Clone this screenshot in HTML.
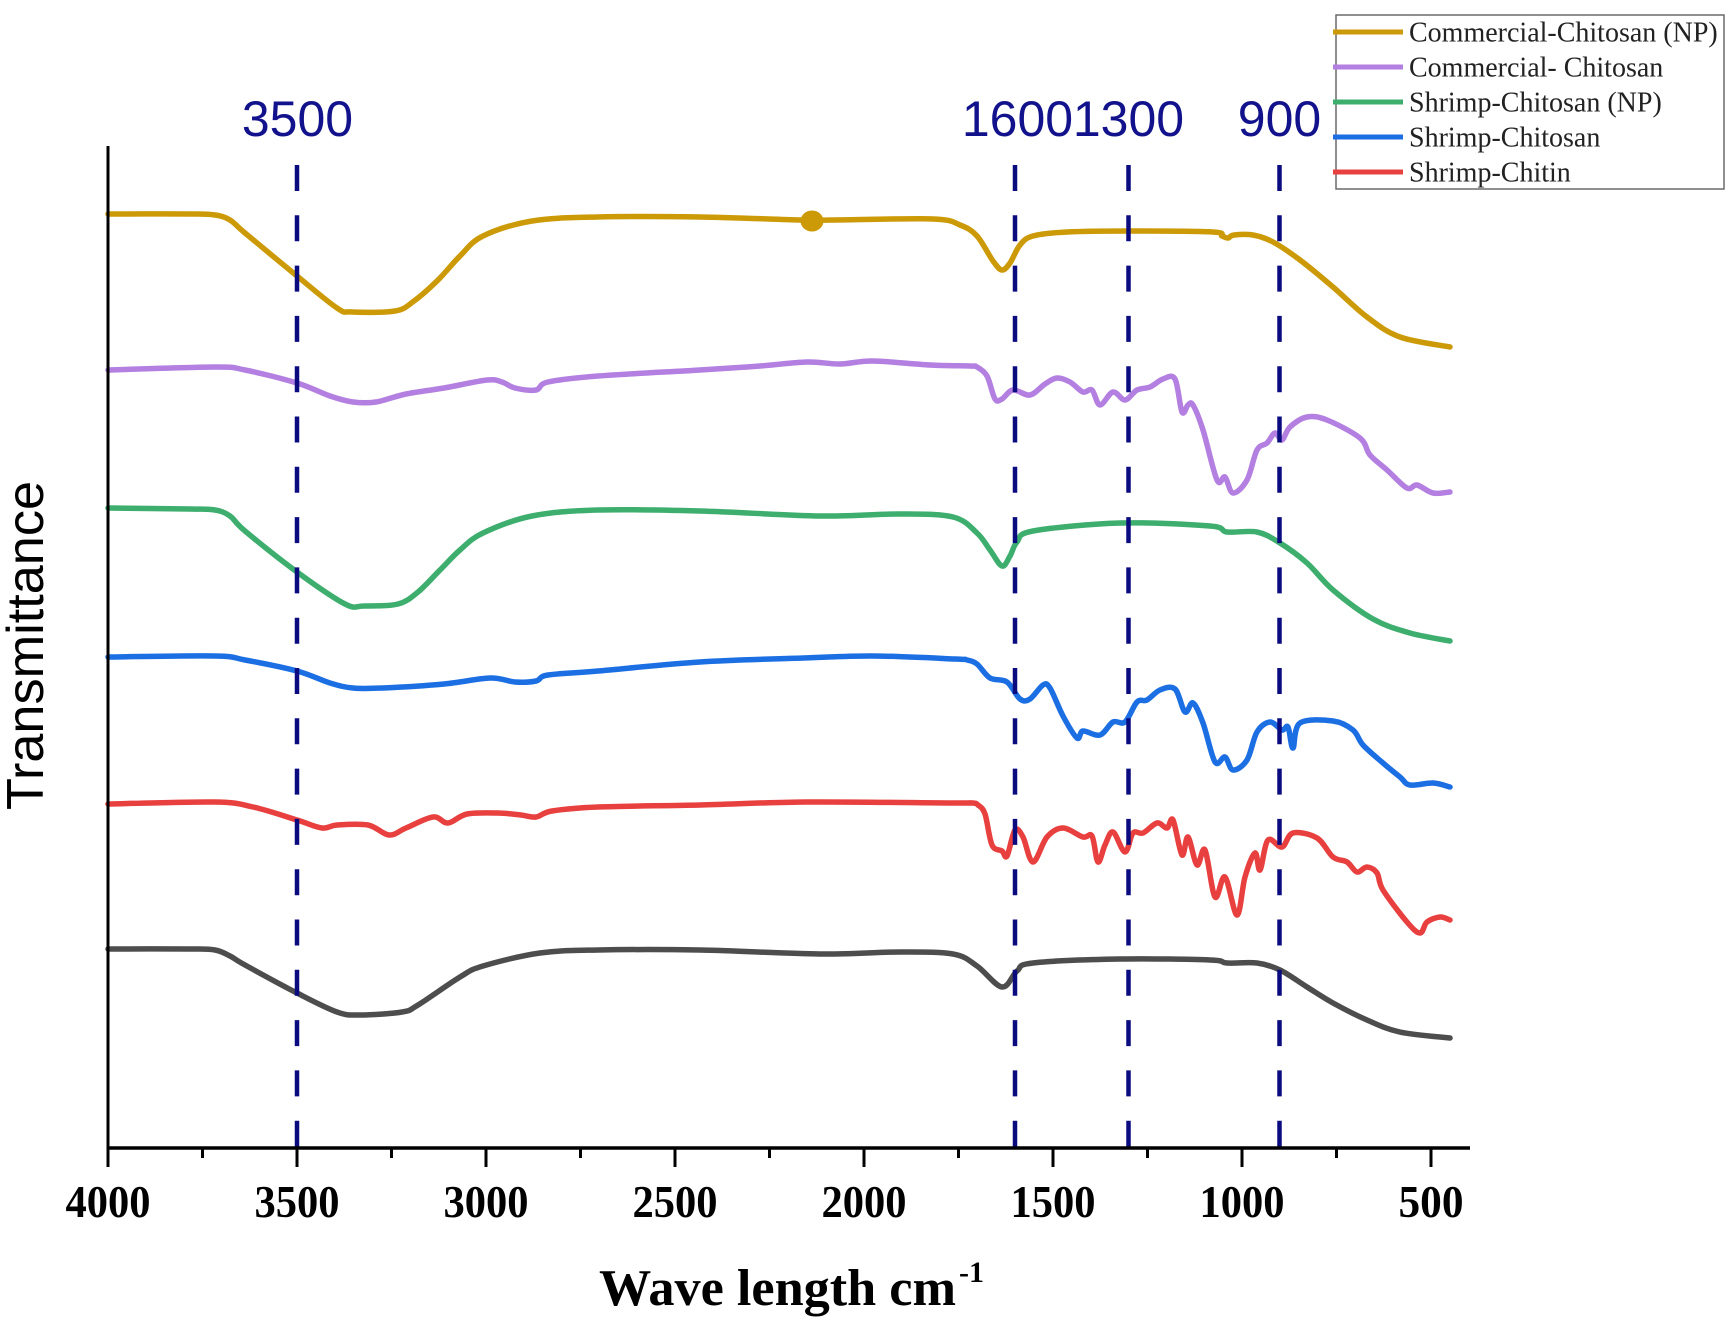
<!DOCTYPE html>
<html>
<head>
<meta charset="utf-8">
<style>
  html, body { margin: 0; padding: 0; background: #ffffff; }
  svg { display: block; }
</style>
</head>
<body>
<svg id="chart" width="1734" height="1320" viewBox="0 0 1734 1320" xmlns="http://www.w3.org/2000/svg">
  <rect x="0" y="0" width="1734" height="1320" fill="#ffffff"/>

  <!-- Spectra -->
  <g id="spectra" fill="none" stroke-width="5.5" stroke-linejoin="round" stroke-linecap="round">
    <polyline stroke="#CC9A06" points="108,214 190,214 215,215 230,220 245,233 297,276 337,308 352,312 395,311 414,301 438,280 460,256 483,236 532,221 597,217 700,217 800,220 833,220 933,219 960,225 977,236 993,261 1002,270 1010,263 1020,245 1033,236 1067,232 1133,231 1213,232 1222,236 1228,238 1234,235 1253,235 1273,242 1300,260 1333,287 1367,317 1400,337 1450,347"/>
    <polyline stroke="#B37FE0" points="108,370 215,367 245,370 297,383 330,396 353,402 376,402 406,394 444,388 487,380 502,382 515,388 536,390 548,382 598,376 700,370 760,366 807,362 840,364 873,361 930,365 970,366 977,367 987,376 995,399 1002,399 1013,390 1030,395 1045,384 1057,378 1070,382 1083,392 1092,390 1100,405 1113,392 1125,400 1137,390 1150,387 1163,379 1175,379 1182,412 1188,405 1193,405 1203,430 1217,480 1225,477 1233,493 1247,480 1257,450 1267,443 1275,433 1282,440 1290,427 1307,417 1327,420 1360,438 1370,455 1387,470 1407,488 1417,485 1433,493 1450,492"/>
    <polyline stroke="#3DAE6E" points="108,508 190,509 215,510 230,516 245,531 297,572 345,604 364,606 398,604 418,592 440,570 460,550 483,533 532,516 598,510 700,511 820,516 900,514 953,517 977,533 990,550 1002,566 1010,556 1017,542 1033,531 1120,523 1210,526 1227,532 1257,532 1280,543 1307,563 1333,590 1373,619 1410,633 1450,641"/>
    <polyline stroke="#1C6FE3" points="108,657 215,656 245,660 297,671 330,683 353,688 383,688 444,684 490,678 515,682 536,681 548,675 598,671 700,662 803,658 873,656 955,659 967,660 977,664 990,678 1007,682 1020,699 1030,699 1043,685 1050,688 1063,716 1077,738 1083,731 1100,735 1113,722 1125,722 1137,702 1147,700 1160,690 1175,689 1185,712 1193,703 1203,723 1215,762 1225,757 1233,770 1247,760 1257,732 1270,722 1282,730 1288,727 1293,748 1300,723 1333,721 1353,730 1363,745 1383,763 1400,777 1410,785 1433,783 1450,787"/>
    <polyline stroke="#E8403F" points="108,804 215,802 253,807 297,820 322,828 337,825 368,825 389,835 406,828 433,817 448,823 467,814 498,813 521,815 536,817 552,811 598,807 700,805 807,802 950,803 972,803 978,805 985,814 992,845 1002,851 1007,856 1015,830 1023,837 1033,862 1047,837 1063,828 1083,837 1092,836 1098,862 1105,845 1113,832 1125,852 1133,833 1143,833 1157,823 1167,828 1173,820 1182,855 1188,837 1197,865 1205,850 1215,897 1225,877 1237,915 1245,877 1255,853 1260,870 1268,840 1282,847 1293,833 1317,838 1333,857 1347,862 1357,872 1367,867 1377,873 1383,890 1407,922 1420,933 1427,922 1440,917 1450,920"/>
    <polyline stroke="#4D4D4D" points="108,949 190,949 215,950 230,956 245,965 297,993 337,1012 360,1015 402,1012 418,1005 460,977 483,966 540,953 598,950 700,950 820,954 900,952 953,954 977,966 1002,987 1017,971 1033,963 1120,959 1210,960 1227,963 1257,963 1280,970 1307,987 1333,1003 1367,1020 1400,1032 1450,1038"/>
  </g>
  <ellipse cx="812" cy="221" rx="11.5" ry="10.5" fill="#CC9A06"/>

  <!-- Dashed reference lines -->
  <g stroke="#0b0b80" stroke-width="4.5" stroke-dasharray="26 24.3">
    <line x1="297" y1="165" x2="297" y2="1148"/>
    <line x1="1015" y1="165" x2="1015" y2="1148"/>
    <line x1="1128.5" y1="165" x2="1128.5" y2="1148"/>
    <line x1="1279.5" y1="165" x2="1279.5" y2="1148"/>
  </g>

  <!-- Reference labels -->
  <g font-family="'Liberation Sans', Arial, sans-serif" font-size="50" fill="#12128c" text-anchor="middle">
    <text x="297.5" y="136">3500</text>
    <text x="1017.5" y="136">1600</text>
    <text x="1128.5" y="136">1300</text>
    <text x="1279.5" y="136">900</text>
  </g>

  <!-- Axes -->
  <g stroke="#000" fill="none">
    <line x1="108" y1="146" x2="108" y2="1149.5" stroke-width="3"/>
    <line x1="106.5" y1="1148" x2="1470" y2="1148" stroke-width="3.5"/>
  </g>
  <g stroke="#000" stroke-width="3">
    <line x1="108" y1="1148" x2="108" y2="1167"/>
    <line x1="297" y1="1148" x2="297" y2="1167"/>
    <line x1="486" y1="1148" x2="486" y2="1167"/>
    <line x1="675" y1="1148" x2="675" y2="1167"/>
    <line x1="864" y1="1148" x2="864" y2="1167"/>
    <line x1="1053" y1="1148" x2="1053" y2="1167"/>
    <line x1="1242" y1="1148" x2="1242" y2="1167"/>
    <line x1="1431" y1="1148" x2="1431" y2="1167"/>
  </g>
  <g stroke="#000" stroke-width="3">
    <line x1="202.5" y1="1148" x2="202.5" y2="1158"/>
    <line x1="391.5" y1="1148" x2="391.5" y2="1158"/>
    <line x1="580.5" y1="1148" x2="580.5" y2="1158"/>
    <line x1="769.5" y1="1148" x2="769.5" y2="1158"/>
    <line x1="958.5" y1="1148" x2="958.5" y2="1158"/>
    <line x1="1147.5" y1="1148" x2="1147.5" y2="1158"/>
    <line x1="1336.5" y1="1148" x2="1336.5" y2="1158"/>
  </g>

  <!-- Tick labels -->
  <g font-family="'Liberation Serif', 'Times New Roman', serif" font-weight="bold" font-size="46" fill="#000" text-anchor="middle">
    <text x="108" y="1217" textLength="85" lengthAdjust="spacingAndGlyphs">4000</text>
    <text x="297" y="1217" textLength="85" lengthAdjust="spacingAndGlyphs">3500</text>
    <text x="486" y="1217" textLength="85" lengthAdjust="spacingAndGlyphs">3000</text>
    <text x="675" y="1217" textLength="85" lengthAdjust="spacingAndGlyphs">2500</text>
    <text x="864" y="1217" textLength="85" lengthAdjust="spacingAndGlyphs">2000</text>
    <text x="1053" y="1217" textLength="85" lengthAdjust="spacingAndGlyphs">1500</text>
    <text x="1242" y="1217" textLength="85" lengthAdjust="spacingAndGlyphs">1000</text>
    <text x="1431" y="1217" textLength="65" lengthAdjust="spacingAndGlyphs">500</text>
  </g>

  <!-- X axis title -->
  <text x="599" y="1305" font-family="'Liberation Serif', 'Times New Roman', serif" font-weight="bold" font-size="52" fill="#000" textLength="357" lengthAdjust="spacingAndGlyphs">Wave length cm</text>
  <text x="959" y="1282" font-family="'Liberation Serif', 'Times New Roman', serif" font-weight="bold" font-size="30" fill="#000">-1</text>

  <!-- Y axis title -->
  <text transform="translate(43,645.5) rotate(-90)" font-family="'Liberation Sans', Arial, sans-serif" font-size="52" fill="#000" text-anchor="middle" textLength="329" lengthAdjust="spacingAndGlyphs">Transmittance</text>

  <!-- Legend -->
  <rect x="1336" y="15" width="388" height="174" fill="#ffffff" stroke="#6a6a6a" stroke-width="1.5"/>
  <g stroke-width="5" stroke-linecap="butt">
    <line x1="1333" y1="32" x2="1403" y2="32" stroke="#CC9A06"/>
    <line x1="1333" y1="67" x2="1403" y2="67" stroke="#B37FE0"/>
    <line x1="1333" y1="102" x2="1403" y2="102" stroke="#3DAE6E"/>
    <line x1="1333" y1="137" x2="1403" y2="137" stroke="#1C6FE3"/>
    <line x1="1333" y1="172" x2="1403" y2="172" stroke="#E8403F"/>
  </g>
  <g font-family="'Liberation Serif', 'Times New Roman', serif" font-size="28" fill="#222">
    <text x="1409" y="41.5">Commercial-Chitosan (NP)</text>
    <text x="1409" y="76.5">Commercial- Chitosan</text>
    <text x="1409" y="111.5">Shrimp-Chitosan (NP)</text>
    <text x="1409" y="146.5">Shrimp-Chitosan</text>
    <text x="1409" y="181.5">Shrimp-Chitin</text>
  </g>
</svg>
<script>
(function(){
  var NS = "http://www.w3.org/2000/svg";
  var g = document.getElementById("spectra");
  var pls = Array.prototype.slice.call(g.getElementsByTagName("polyline"));
  pls.forEach(function(pl){
    var raw = pl.getAttribute("points").trim().split(/\s+/).map(function(s){
      var a = s.split(","); return [parseFloat(a[0]), parseFloat(a[1])];
    });
    var n = raw.length;
    var d = "M" + raw[0][0] + "," + raw[0][1];
    for (var i = 0; i < n - 1; i++) {
      var p0 = raw[i > 0 ? i - 1 : i], p1 = raw[i], p2 = raw[i + 1], p3 = raw[i + 2 < n ? i + 2 : i + 1];
      var t = 1/6;
      var c1x = p1[0] + (p2[0] - p0[0]) * t, c1y = p1[1] + (p2[1] - p0[1]) * t;
      var c2x = p2[0] - (p3[0] - p1[0]) * t, c2y = p2[1] - (p3[1] - p1[1]) * t;
      d += " C" + c1x.toFixed(2) + "," + c1y.toFixed(2) + " " + c2x.toFixed(2) + "," + c2y.toFixed(2) + " " + p2[0] + "," + p2[1];
    }
    var path = document.createElementNS(NS, "path");
    path.setAttribute("d", d);
    path.setAttribute("stroke", pl.getAttribute("stroke"));
    g.insertBefore(path, pl);
    g.removeChild(pl);
  });
})();
</script>
</body>
</html>
